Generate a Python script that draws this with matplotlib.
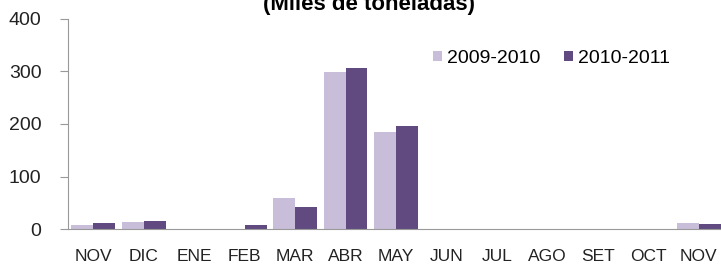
import matplotlib.pyplot as plt
import numpy as np

# Meses y valores (miles de toneladas)
months = ['NOV', 'DIC', 'ENE', 'FEB', 'MAR', 'ABR', 'MAY', 'JUN', 'JUL', 'AGO', 'SET', 'OCT', 'NOV']
s_2009_2010 = [7, 14, 0, 0, 59, 299, 184, 0, 0, 0, 0, 0, 11]
s_2010_2011 = [11, 16, 0, 7, 41, 306, 196, 0, 0, 0, 0, 0, 10]
series_names = ['2009-2010', '2010-2011']
yticks = [0, 100, 200, 300, 400]

c_light = '#C8BED9'
c_dark = '#604A80'

W, H = 721, 268
fig = plt.figure(figsize=(W / 100, H / 100), dpi=100)
plt.rcParams['font.family'] = ['Liberation Sans', 'DejaVu Sans']

# axes extends beyond right edge like the cropped original
ax = fig.add_axes([68 / W, 1 - 229 / H, 656 / W, 210 / H])

x = np.arange(len(months))
bw = 0.435
ax.bar(x - bw / 2, s_2009_2010, bw, color=c_light, label=series_names[0])
ax.bar(x + bw / 2, s_2010_2011, bw, color=c_dark, label=series_names[1])

ax.set_xlim(-0.5, len(months) - 0.5)
ax.set_ylim(0, 400)
ax.set_yticks(yticks)
ax.set_yticklabels([str(v) for v in yticks], fontsize=14, color='#222222')
ax.set_xticks(x)
ax.set_xticklabels(months, fontsize=12.5, color='#222222')

for s in ['top', 'right']:
    ax.spines[s].set_visible(False)
ax.spines['left'].set_color('#999999')
ax.spines['bottom'].set_color('#999999')
ax.tick_params(axis='y', length=5.5, color='#999999', pad=13.5)
ax.tick_params(axis='x', length=0, pad=14.5)

ax.legend(loc='center left', bbox_to_anchor=(433 / W, 1 - 58.5 / H),
          bbox_transform=fig.transFigure, ncol=2, frameon=False,
          fontsize=14, handlelength=0.47, handleheight=0.47, handletextpad=0.25,
          columnspacing=1.2, borderaxespad=0, borderpad=0)

fig.text(369 / W, 1 - 10 / H, '(Miles de toneladas)', ha='center', va='baseline',
         fontsize=16, fontweight='bold')

fig.savefig('out.png', dpi=100)
